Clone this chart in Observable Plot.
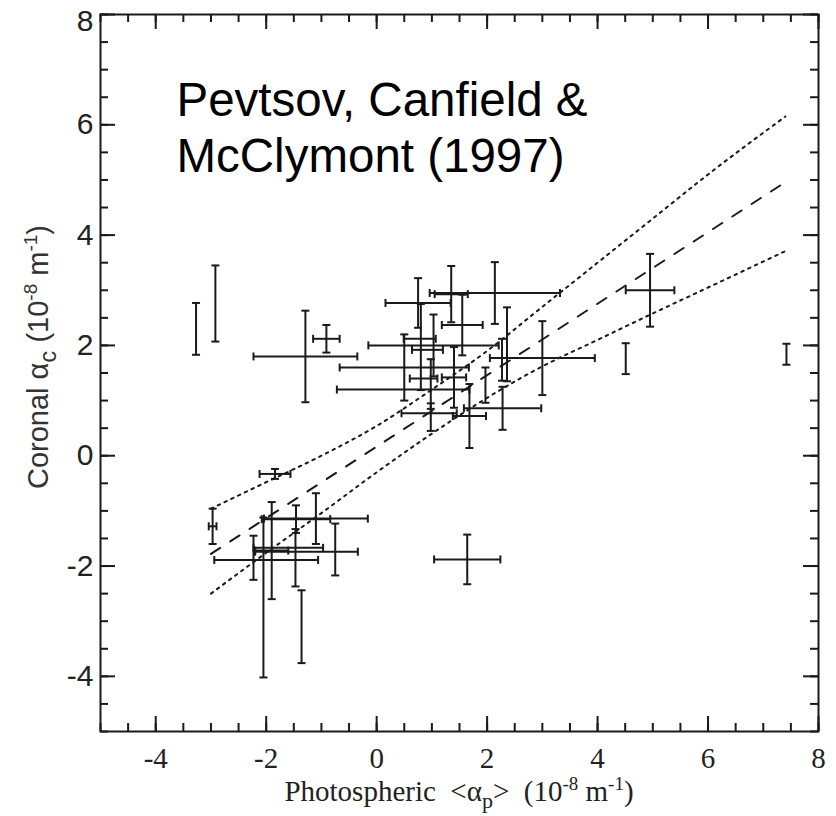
<!DOCTYPE html>
<html>
<head>
<meta charset="utf-8">
<script src="https://cdn.jsdelivr.net/npm/d3@7"></script>
<script src="https://cdn.jsdelivr.net/npm/@observablehq/plot@0.6"></script>
<style>
  html, body { margin: 0; padding: 0; background: #fff; overflow: hidden; }
  #chart svg { display: block; }
</style>
</head>
<body>
<div id="chart"></div>
<script>
// ---- data ----
// measurements (photospheric alpha, coronal alpha, half error bars)
const px    = [-3.27, -2.92, -1.29, -0.91, -1.84, -2.97, -1.10, -1.46, -1.47, -1.90, -2.00, -2.23, -2.05, -1.36, -1.27, -0.75, -1.60, 1.64, 4.95, 4.51, 7.42, 2.14, 1.35, 0.75, 1.55, 3.00, 2.36, 2.27, 1.97, 2.28, 1.68, 1.03, 0.50, 0.48, 1.40, 0.78, 0.92, 0.85, 0.80, 0.98, 0.95, 0.98];
const py    = [ 2.30,  2.76,  1.80,  2.12, -0.33, -1.28, -1.14, -1.15, -1.85, -1.72, -1.89, -1.85, -2.57, -3.10, -1.74, -1.70, -1.67, -1.88, 3.00, 1.76, 1.84, 2.95, 2.93, 2.77, 2.37, 1.77, 2.02, 1.74, 1.28, 0.86, 0.72, 2.00, 1.60, 1.20, 1.42, 2.12, 1.92, 1.40, 1.97, 1.30, 0.77, 0.70];
const pxErr = [ 0,     0,     0.94,  0.24,  0.28,  0.07,  0.94,  0.62,  0,     0.30,  0.94,  0,     0,     0,     0.93,  0,     0.63, 0.60, 0.44, 0,    0,    1.18, 0.30, 0.59, 0.37, 0.95, 0,    0,    0,    0.70, 0.30, 1.18, 1.17, 1.20, 0.22, 0.29, 0.28, 0.25, 0,    0,    0.50, 0];
const pyErr = [ 0.47,  0.69,  0.83,  0.25,  0.09,  0.32,  0.46,  0.25,  0.52,  0.88,  0,     0.40,  1.45,  0.66,  0,     0.47,  0,    0.45, 0.66, 0.28, 0.19, 0.56, 0.51, 0.45, 0.55, 0.67, 0.67, 0.38, 0.32, 0.39, 0.58, 0.56, 0.60, 0,    0.55, 0,    0,    0,    0.78, 0.45, 0,    0.25];

// regression line (dashed) and its confidence band (dotted)
const fitX   = [-3.0, 7.4];
const fitY   = [-1.78, 4.96];
const bandX  = [-3.0, -2.0, -1.0, 0.0, 1.0, 2.0, 3.0, 4.0, 5.0, 6.0, 7.4];
const upperY = [-0.96, -0.48, 0.00, 0.54, 1.20, 1.90, 2.70, 3.50, 4.30, 5.10, 6.15];
const lowerY = [-2.50, -1.76, -1.04, -0.30, 0.40, 1.05, 1.62, 2.10, 2.58, 3.05, 3.71];

// axes
const xDomain = [-5, 8];
const yDomain = [-5, 8];
const xTicks = [-4, -2, 0, 2, 4, 6, 8];
const yTicks = [-4, -2, 0, 2, 4, 6, 8];
const noteText = "Pevtsov, Canfield &\nMcClymont (1997)";

// ---- build ----
const W = 836, H = 816;
const mL = 100, mR = 18, mT = 14, mB = 85;
const innerW = W - mL - mR, innerH = H - mT - mB;
const ink = "#1a1a1a";

const pts = px.map((x, i) => ({x, y: py[i], xe: pxErr[i], ye: pyErr[i]}));
const vBars = pts.filter(d => d.ye > 0);
const hBars = pts.filter(d => d.xe > 0);
const vCaps = vBars.flatMap(d => [{x: d.x, y: d.y - d.ye}, {x: d.x, y: d.y + d.ye}]);
const hCaps = hBars.flatMap(d => [{x: d.x - d.xe, y: d.y}, {x: d.x + d.xe, y: d.y}]);
const fit = fitX.map((x, i) => ({x, y: fitY[i]}));
const upper = bandX.map((x, i) => ({x, y: upperY[i]}));
const lower = bandX.map((x, i) => ({x, y: lowerY[i]}));

const capH = {draw(ctx, size) { const r = Math.sqrt(size / Math.PI); ctx.moveTo(-r, 0); ctx.lineTo(r, 0); }};
const capV = {draw(ctx, size) { const r = Math.sqrt(size / Math.PI); ctx.moveTo(0, -r); ctx.lineTo(0, r); }};

const minorX = d3.range(-5, 8.001, 0.5);
const minorY = d3.range(-5, 8.001, 0.5);
const majLen = 15, minLen = 8;
const sans = "'Liberation Sans', Arial, sans-serif";
const serif = "'Liberation Serif', 'Times New Roman', serif";

const svg = Plot.plot({
  width: W, height: H,
  marginLeft: mL, marginRight: mR, marginTop: mT, marginBottom: mB,
  x: {domain: xDomain, axis: null},
  y: {domain: yDomain, axis: null},
  style: {background: "#fff", overflow: "visible"},
  marks: [
    // inward ticks on four sides
    Plot.ruleX(minorX, {x: d => d, insetTop: innerH - minLen, stroke: ink, strokeWidth: 2}),
    Plot.ruleX(minorX, {x: d => d, insetBottom: innerH - minLen, stroke: ink, strokeWidth: 2}),
    Plot.ruleX(xTicks, {x: d => d, insetTop: innerH - majLen, stroke: ink, strokeWidth: 2}),
    Plot.ruleX(xTicks, {x: d => d, insetBottom: innerH - majLen, stroke: ink, strokeWidth: 2}),
    Plot.ruleY(minorY, {y: d => d, insetRight: innerW - minLen, stroke: ink, strokeWidth: 2}),
    Plot.ruleY(minorY, {y: d => d, insetLeft: innerW - minLen, stroke: ink, strokeWidth: 2}),
    Plot.ruleY(yTicks, {y: d => d, insetRight: innerW - majLen, stroke: ink, strokeWidth: 2}),
    Plot.ruleY(yTicks, {y: d => d, insetLeft: innerW - majLen, stroke: ink, strokeWidth: 2}),
    Plot.frame({stroke: ink, strokeWidth: 2}),
    // tick labels
    Plot.text(xTicks, {x: d => d, text: d => String(d), frameAnchor: "bottom", dy: 27, lineAnchor: "middle",
      fontFamily: serif, fontSize: 29, fill: "#222"}),
    Plot.text(yTicks.filter(d => d < yDomain[1]), {y: d => d, text: d => String(d), frameAnchor: "left", dx: -7, textAnchor: "end", lineAnchor: "middle",
      fontFamily: sans, fontSize: 30, fill: "#222"}),
    Plot.text(yTicks.filter(d => d >= yDomain[1]), {y: d => d, text: d => String(d), frameAnchor: "left", dx: -7, dy: 7, textAnchor: "end", lineAnchor: "middle",
      fontFamily: sans, fontSize: 30, fill: "#222"}),
    // fit line and confidence band
    Plot.line(upper, {x: "x", y: "y", stroke: ink, strokeWidth: 2, strokeDasharray: "2.5,5", curve: "monotone-x"}),
    Plot.line(lower, {x: "x", y: "y", stroke: ink, strokeWidth: 2, strokeDasharray: "2.5,5", curve: "monotone-x"}),
    Plot.line(fit, {x: "x", y: "y", stroke: ink, strokeWidth: 2, strokeDasharray: "11,12"}),
    // error bars
    Plot.ruleX(vBars, {x: "x", y1: d => d.y - d.ye, y2: d => d.y + d.ye, stroke: ink, strokeWidth: 2}),
    Plot.ruleY(hBars, {y: "y", x1: d => d.x - d.xe, x2: d => d.x + d.xe, stroke: ink, strokeWidth: 2}),
    Plot.dot(vCaps, {x: "x", y: "y", symbol: capH, r: 4, stroke: ink, fill: "none", strokeWidth: 2}),
    Plot.dot(hCaps, {x: "x", y: "y", symbol: capV, r: 4, stroke: ink, fill: "none", strokeWidth: 2}),
    // annotation
    Plot.text([noteText], {text: d => d, frameAnchor: "top-left", textAnchor: "start", lineAnchor: "top",
      dx: 76, dy: 61, lineHeight: 1.19, fontSize: 47.5, fontFamily: sans, fill: "#000", ariaLabel: "note"})
  ]
});

document.getElementById("chart").appendChild(svg);

const s = d3.select(svg);
// soft shadow on the annotation, as in the reference
s.selectAll("[aria-label=note]").style("filter", "drop-shadow(2px 2px 0.6px rgba(0,0,0,0.28))");

// axis titles with sub/superscripts
const xt = s.append("text")
  .attr("x", mL + innerW / 2).attr("y", 801)
  .attr("text-anchor", "middle")
  .style("font-family", serif)
  .style("font-size", "29px").style("fill", "#222").style("white-space", "pre");
xt.append("tspan").text("Photospheric  <α");
xt.append("tspan").attr("dy", 7).style("font-size", "22px").text("p");
xt.append("tspan").attr("dy", -7).text(">  (10");
xt.append("tspan").attr("dy", -11).style("font-size", "19px").text("-8");
xt.append("tspan").attr("dy", 11).text(" m");
xt.append("tspan").attr("dy", -11).style("font-size", "19px").text("-1");
xt.append("tspan").attr("dy", 11).text(")");

const yt = s.append("text")
  .attr("transform", `translate(48, ${357}) rotate(-90)`)
  .attr("text-anchor", "middle")
  .style("font-family", sans)
  .style("font-size", "29px").style("fill", "#333").style("white-space", "pre");
yt.append("tspan").text("Coronal α");
yt.append("tspan").attr("dy", 8).style("font-size", "24px").text("c");
yt.append("tspan").attr("dy", -8).text(" (10");
yt.append("tspan").attr("dy", -11).style("font-size", "19px").text("-8");
yt.append("tspan").attr("dy", 11).text(" m");
yt.append("tspan").attr("dy", -11).style("font-size", "19px").text("-1");
yt.append("tspan").attr("dy", 11).text(")");
</script>
</body>
</html>
